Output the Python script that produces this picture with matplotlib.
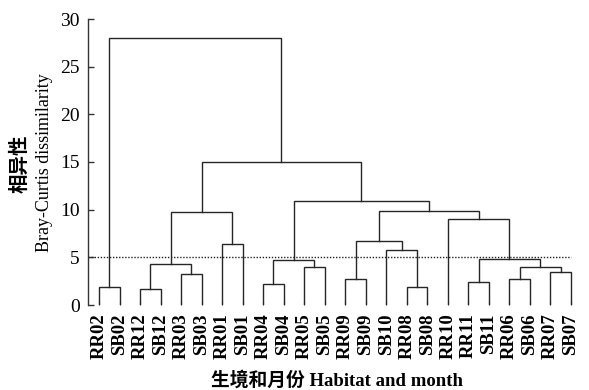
import matplotlib
matplotlib.use("Agg")
import matplotlib.pyplot as plt

leaves = ['RR02', 'SB02', 'RR12', 'SB12', 'RR03', 'SB03', 'RR01', 'SB01',
          'RR04', 'SB04', 'RR05', 'SB05', 'RR09', 'SB09', 'SB10', 'RR08',
          'SB08', 'RR10', 'RR11', 'SB11', 'RR06', 'SB06', 'RR07', 'SB07']

# merges: (left child, right child, height); children are leaf names or merge ids "m<k>"
merge_left = ['RR02', 'RR12', 'RR03', 'm1', 'RR01', 'm3', 'RR04', 'RR05', 'm6',
              'RR09', 'RR08', 'SB10', 'm9', 'RR11', 'RR06', 'RR07', 'm14', 'm13',
              'RR10', 'm12', 'm8', 'm5', 'm0']
merge_right = ['SB02', 'SB12', 'SB03', 'm2', 'SB01', 'm4', 'SB04', 'SB05', 'm7',
               'SB09', 'SB08', 'm10', 'm11', 'SB11', 'SB06', 'SB07', 'm15', 'm16',
               'm17', 'm18', 'm19', 'm20', 'm21']
merge_height = [1.85, 1.7, 3.25, 4.3, 6.35, 9.8, 2.25, 3.95, 4.7,
                2.75, 1.85, 5.75, 6.7, 2.45, 2.7, 3.5, 4.0, 4.8,
                9.0, 9.85, 10.9, 15.0, 28.0]
cutoff = 5.0

yticks = [0, 5, 10, 15, 20, 25, 30]

serif = ['Liberation Serif', 'Noto Sans CJK SC']
plt.rcParams['font.family'] = serif

fig = plt.figure(figsize=(5.89, 3.90), dpi=100)
ax = fig.add_axes([88/589, 85/390, 492/589, 286/390])

pos = {name: (i, 0.0) for i, name in enumerate(leaves)}
line_color = '#262626'
for k, (l, r, h) in enumerate(zip(merge_left, merge_right, merge_height)):
    xl, hl = pos[l]
    xr, hr = pos[r]
    ax.plot([xl, xl, xr, xr], [hl, h, h, hr], color=line_color, lw=1.0,
            solid_joinstyle='miter')
    pos['m%d' % k] = ((xl + xr) / 2.0, h)

xmin = -0.536
ax.plot([xmin, len(leaves) - 1], [cutoff, cutoff], color='#222222', lw=1.0,
        linestyle=(0, (1, 1.2)))

ax.set_xlim(xmin, 23.44)
ax.set_ylim(0, 30)
ax.set_yticks(yticks)
ax.set_yticklabels([str(t) for t in yticks], fontsize=14)
ax.set_xticks(range(len(leaves)))
ax.set_xticklabels(leaves, rotation=90, fontsize=13.5, fontweight='bold')

for s in ['top', 'right', 'bottom']:
    ax.spines[s].set_visible(False)
ax.spines['left'].set_color('#333333')
ax.spines['left'].set_linewidth(1.0)
ax.tick_params(axis='y', direction='in', length=4, width=1.0, color='#333333', pad=6)
ax.tick_params(axis='x', direction='in', length=3, width=0.8, color='#333333', pad=6)

fig.text(20/589, 1 - 164/390, '相异性', rotation=90, ha='center', va='center',
         fontsize=14, fontweight='bold', family=serif)
fig.text(45/589, 1 - 163/390, 'Bray-Curtis dissimilarity', rotation=90,
         ha='center', va='center', fontsize=13, family=serif)
fig.text(337/589, 1 - 380/390, '生境和月份 Habitat and month', ha='center',
         va='center', fontsize=13.5, fontweight='bold', family=serif)

fig.savefig('out.png', dpi=100)
